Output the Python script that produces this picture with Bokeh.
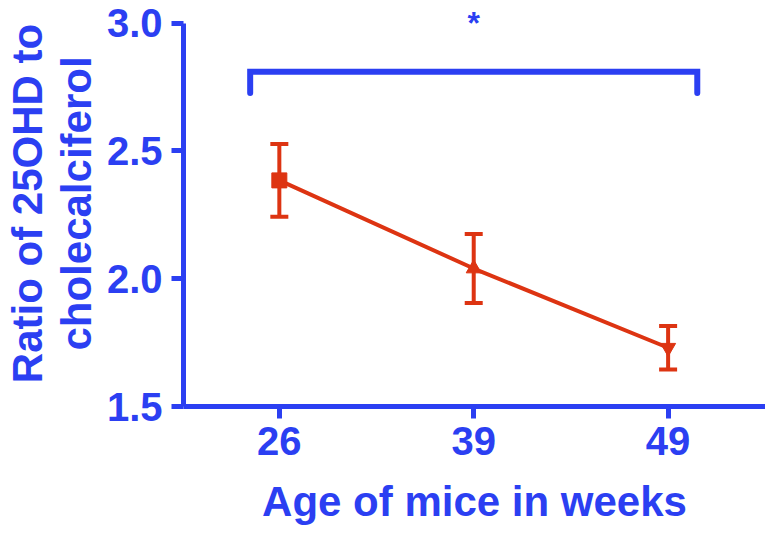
from bokeh.plotting import figure
from bokeh.models import ColumnDataSource, FixedTicker, Whisker, TeeHead, Range1d
from bokeh.core.properties import value
from bokeh.embed import file_html
from bokeh.resources import INLINE

# data
weeks = ["26", "39", "49"]
ratio_mean = [2.385, 2.04, 1.73]
ratio_sem = [0.142, 0.135, 0.085]
markers = ["square", "triangle", "inverted_triangle"]
y_ticks = [1.5, 2.0, 2.5, 3.0]
y_tick_labels = ["1.5", "2.0", "2.5", "3.0"]
# significance bracket (between first and last group)
sig_label = "*"
bracket_from = 0          # index of first group
bracket_to = 2            # index of last group
bracket_y = 2.81
bracket_drop = 0.083

BLUE = "#2b3ff2"
RED = "#dd3412"
FONT = "Liberation Sans"

xpos = [i + 1 for i in range(len(weeks))]
lower = [m - s for m, s in zip(ratio_mean, ratio_sem)]
upper = [m + s for m, s in zip(ratio_mean, ratio_sem)]
src = ColumnDataSource(dict(x=xpos, y=ratio_mean, lo=lower, hi=upper, mk=markers))

p = figure(width=765, height=527, output_backend="svg", toolbar_location=None,
           x_range=Range1d(0.507, 3.501), y_range=Range1d(1.5, 3.089),
           min_border_left=174, min_border_bottom=118, min_border_top=0, min_border_right=0)
p.outline_line_color = None
p.xgrid.visible = False
p.ygrid.visible = False
p.background_fill_color = "white"
p.border_fill_color = "white"

# axes
for ax in (p.xaxis[0], p.yaxis[0]):
    ax.axis_line_color = BLUE
    ax.axis_line_width = 5
    ax.major_tick_line_color = BLUE
    ax.major_tick_line_width = 5
    ax.major_tick_out = 12
    ax.major_tick_in = 0
    ax.minor_tick_line_color = None
    ax.major_label_text_color = BLUE
    ax.major_label_text_font = FONT
    ax.major_label_text_font_style = "bold"
    ax.major_label_text_font_size = "40px"
    ax.axis_label_text_color = BLUE
    ax.axis_label_text_font = FONT
    ax.axis_label_text_font_style = "bold"
    ax.axis_label_text_font_size = "42px"

p.xaxis.ticker = FixedTicker(ticks=xpos)
p.xaxis.major_label_overrides = {x: w for x, w in zip(xpos, weeks)}
p.xaxis.axis_label = "Age of mice in weeks"
p.xaxis.major_label_standoff = 8
p.xaxis.axis_label_standoff = 20

p.yaxis.ticker = FixedTicker(ticks=y_ticks)
p.yaxis.major_label_overrides = {t: l for t, l in zip(y_ticks, y_tick_labels)}
p.yaxis.bounds = (1.5, 3.0)
p.yaxis.axis_label = "Ratio of 25OHD to\ncholecalciferol"
p.yaxis.axis_label_text_line_height = 1.05
p.yaxis.major_label_standoff = 9
p.yaxis.axis_label_standoff = 4

# data line, error bars, markers
p.line("x", "y", source=src, line_color=RED, line_width=4)
p.add_layout(Whisker(source=src, base="x", lower="lo", upper="hi",
                     line_color=RED, line_width=4,
                     lower_head=TeeHead(size=18, line_color=RED, line_width=4),
                     upper_head=TeeHead(size=18, line_color=RED, line_width=4)))
p.scatter("x", "y", source=src, marker="mk", size=15, fill_color=RED, line_color=RED)

# significance bracket
bx0 = xpos[bracket_from] - 0.15
bx1 = xpos[bracket_to] + 0.15
p.line([bx0, bx0, bx1, bx1],
       [bracket_y - bracket_drop, bracket_y, bracket_y, bracket_y - bracket_drop],
       line_color=BLUE, line_width=6, line_cap="round", line_join="miter")
p.text(x=[(bx0 + bx1) / 2], y=[3.0], text=[sig_label], text_color=BLUE,
       text_font=value(FONT), text_font_style="bold", text_font_size="32px",
       text_align="center", text_baseline="middle")

open("out.html", "w").write(file_html(p, INLINE))
